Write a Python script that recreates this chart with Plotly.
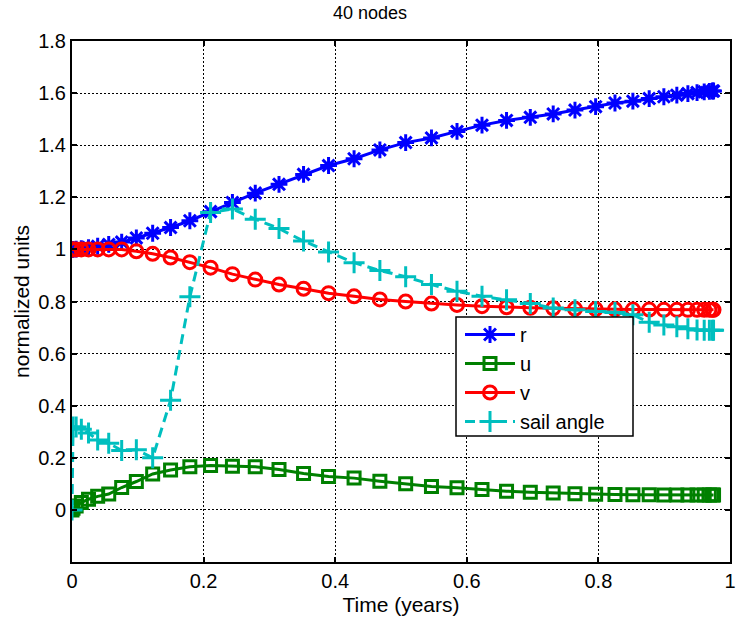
import plotly.graph_objects as go

# Collocation times (years) and state/control histories on 40 nodes
time = [0.0, 0.0016, 0.0063, 0.0142, 0.0251, 0.0390, 0.0558, 0.0755, 0.0978, 0.1226,
        0.1498, 0.1791, 0.2106, 0.2438, 0.2785, 0.3146, 0.3519, 0.3899, 0.4287, 0.4679,
        0.5071, 0.5463, 0.5851, 0.6231, 0.6604, 0.6965, 0.7313, 0.7644, 0.7958, 0.8252,
        0.8524, 0.8772, 0.8995, 0.9192, 0.9360, 0.9499, 0.9608, 0.9687, 0.9734, 0.9750]

r = [1.0, 1.0, 1.001, 1.003, 1.007, 1.012, 1.019, 1.028, 1.044, 1.062,
     1.084, 1.11, 1.145, 1.18, 1.216, 1.25, 1.288, 1.322, 1.348, 1.382,
     1.41, 1.428, 1.453, 1.477, 1.495, 1.507, 1.52, 1.535, 1.548, 1.562,
     1.569, 1.579, 1.586, 1.592, 1.598, 1.602, 1.605, 1.607, 1.608, 1.608]

u = [0.0, 0.006, 0.015, 0.028, 0.041, 0.052, 0.061, 0.086, 0.109, 0.138,
     0.153, 0.166, 0.17, 0.168, 0.166, 0.155, 0.14, 0.128, 0.122, 0.11,
     0.1, 0.09, 0.085, 0.078, 0.072, 0.068, 0.065, 0.062, 0.06, 0.059,
     0.058, 0.058, 0.057, 0.057, 0.057, 0.057, 0.057, 0.057, 0.057, 0.057]

v = [1.0, 1.0, 1.0, 1.0, 1.0, 1.0, 1.0, 1.0, 0.993, 0.983,
     0.969, 0.951, 0.93, 0.905, 0.884, 0.865, 0.849, 0.832, 0.82, 0.808,
     0.8, 0.792, 0.787, 0.782, 0.778, 0.776, 0.774, 0.772, 0.771, 0.77,
     0.769, 0.769, 0.768, 0.768, 0.768, 0.768, 0.768, 0.768, 0.768, 0.768]

sail_angle = [0.0, 0.318, 0.318, 0.31, 0.295, 0.268, 0.256, 0.228, 0.231, 0.2,
              0.421, 0.818, 1.142, 1.155, 1.116, 1.08, 1.032, 0.99, 0.949, 0.919,
              0.895, 0.865, 0.839, 0.82, 0.807, 0.792, 0.775, 0.768, 0.762, 0.758,
              0.749, 0.72, 0.71, 0.703, 0.695, 0.691, 0.69, 0.69, 0.69, 0.69]

x_ticks = [0, 0.2, 0.4, 0.6, 0.8, 1]
x_labels = ["0", "0.2", "0.4", "0.6", "0.8", "1"]
y_ticks = [0, 0.2, 0.4, 0.6, 0.8, 1, 1.2, 1.4, 1.6, 1.8]
y_labels = ["0", "0.2", "0.4", "0.6", "0.8", "1", "1.2", "1.4", "1.6", "1.8"]

FONT = "Liberation Sans, Arial, sans-serif"
LW = 3

series = [
    ("r", r, "#0000FF", "asterisk-open", 14, "solid"),
    ("u", u, "#008000", "square-open", 12, "solid"),
    ("v", v, "#FF0000", "circle-open", 13, "solid"),
    ("sail angle", sail_angle, "#00BFBF", "cross-thin-open", 15, "10px,6px"),
]

fig = go.Figure()
for i, (name, vals, color, sym, size, dash) in enumerate(series):
    fig.add_trace(go.Scatter(
        x=time, y=vals, name=name, mode="lines+markers",
        legendgroup=f"g{i}",
        line=dict(color=color, width=LW, dash=dash),
        marker=dict(symbol=sym, size=size, color=color,
                    line=dict(color=color, width=LW)),
    ))

axis_common = dict(
    showline=True, linecolor="black", linewidth=2, mirror="ticks",
    ticks="inside", ticklen=5, tickwidth=1.5, tickcolor="black",
    showgrid=True, gridcolor="black", gridwidth=1, griddash="2px,2px",
    zeroline=False, automargin=False,
    tickfont=dict(family=FONT, size=20, color="black"),
)

# legend frame (drawn as a box so its size is independent of the entries)
ML, MR, MB, MT = 72, 7, 66, 41
PW, PH = 737 - ML - MR, 628 - MT - MB
L_LEFT, L_RIGHT, L_TOP, L_BOTTOM = 456, 633, 317, 436
fig.add_shape(
    type="rect", xref="paper", yref="paper", layer="above",
    x0=(L_LEFT - ML) / PW, x1=(L_RIGHT - ML) / PW,
    y0=(628 - MB - L_BOTTOM) / PH, y1=(628 - MB - L_TOP) / PH,
    line=dict(color="black", width=1.5), fillcolor="white",
)

fig.update_layout(
    width=737, height=628,
    margin=dict(l=ML, r=MR, t=MT, b=MB),
    paper_bgcolor="white", plot_bgcolor="white",
    font=dict(family=FONT, color="black"),
    title=dict(text="40 nodes", x=0.502, xanchor="center",
               y=1 - 13 / 628, yanchor="middle", yref="container",
               font=dict(family=FONT, size=18, color="black")),
    xaxis=dict(range=[0, 1], tickvals=x_ticks, ticktext=x_labels,
               ticklabeloverflow="allow",
               title=dict(text="Time (years)", standoff=6,
                          font=dict(family=FONT, size=21, color="black")),
               **axis_common),
    yaxis=dict(range=[-0.2, 1.8], tickvals=y_ticks, ticktext=y_labels,
               title=dict(text="normalized units", standoff=3,
                          font=dict(family=FONT, size=21, color="black")),
               **axis_common),
    showlegend=True,
    legend=dict(
        x=(460 - ML) / PW, y=(628 - MB - 315) / PH, xanchor="left", yanchor="top",
        bgcolor="rgba(0,0,0,0)", borderwidth=0,
        font=dict(family=FONT, size=20, color="black"),
        tracegroupgap=0, itemwidth=50,
    ),
)

fig.write_html("out.html")
